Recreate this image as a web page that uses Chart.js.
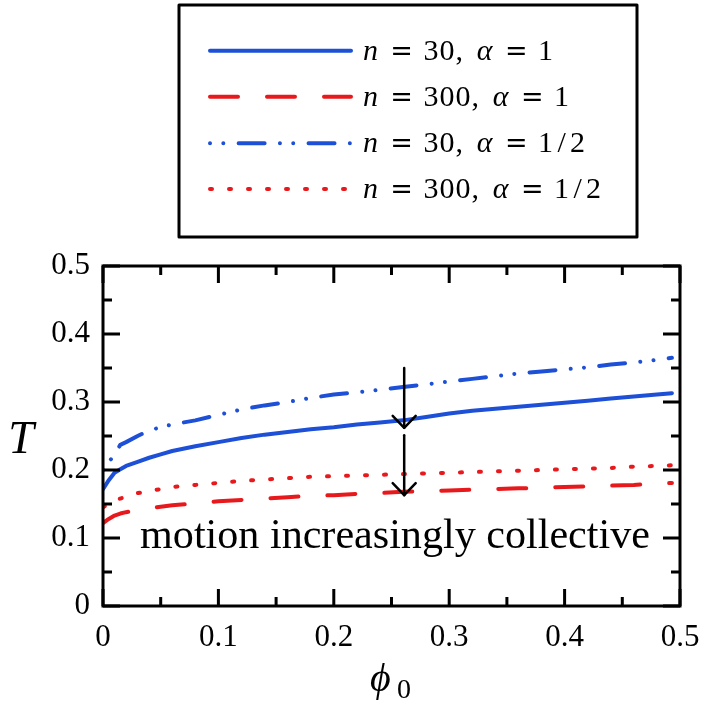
<!DOCTYPE html>
<html>
<head>
<meta charset="utf-8">
<script src="https://cdn.jsdelivr.net/npm/chart.js@4.4.1/dist/chart.umd.min.js"></script>
<style>
html,body{margin:0;padding:0;background:#fff;}
#wrap{position:relative;width:704px;height:705px;}
</style>
</head>
<body>
<div id="wrap"><canvas id="c"></canvas></div>
<script>
// ---- data ----
const phi = [0, 0.005, 0.01, 0.015, 0.02, 0.03, 0.04, 0.05, 0.06, 0.08, 0.1, 0.12, 0.14, 0.16, 0.18, 0.2,
             0.22, 0.24, 0.26, 0.28, 0.3, 0.32, 0.34, 0.36, 0.38, 0.4, 0.42, 0.44, 0.46, 0.48, 0.493];
const T_n30_a1 = [0.172, 0.185, 0.196, 0.201, 0.206, 0.212, 0.218, 0.223, 0.228, 0.235, 0.241, 0.247, 0.252, 0.256, 0.260, 0.263,
                  0.267, 0.270, 0.273, 0.278, 0.283, 0.287, 0.290, 0.293, 0.296, 0.299, 0.302, 0.305, 0.308, 0.311, 0.313];
const T_n300_a1 = [0.122, 0.128, 0.133, 0.136, 0.138, 0.141, 0.144, 0.146, 0.148, 0.151, 0.154, 0.156, 0.158, 0.160, 0.162, 0.163,
                   0.165, 0.166, 0.168, 0.169, 0.170, 0.171, 0.172, 0.173, 0.174, 0.175, 0.176, 0.177, 0.178, 0.180, 0.181];
const T_n30_a05 = [0.200, 0.212, 0.222, 0.237, 0.241, 0.250, 0.258, 0.263, 0.267, 0.273, 0.281, 0.289, 0.295, 0.300, 0.306, 0.311,
                   0.314, 0.318, 0.322, 0.326, 0.330, 0.334, 0.338, 0.342, 0.345, 0.348, 0.351, 0.355, 0.358, 0.362, 0.365];
const T_n300_a05 = [0.145, 0.150, 0.155, 0.158, 0.161, 0.166, 0.169, 0.172, 0.175, 0.178, 0.181, 0.184, 0.186, 0.188, 0.190, 0.191,
                    0.192, 0.193, 0.194, 0.195, 0.196, 0.197, 0.198, 0.199, 0.200, 0.201, 0.202, 0.203, 0.205, 0.206, 0.207];
const xTickValues = [0, 0.1, 0.2, 0.3, 0.4, 0.5];
const yTickValues = [0, 0.1, 0.2, 0.3, 0.4, 0.5];
const legendN = ['30', '300', '30', '300'];
const legendAlpha = ['1', '1', '1/2', '1/2'];
const annotationText = 'motion increasingly collective';
const arrowPhi = 0.261;
const arrow1 = [0.350, 0.262];
const arrow2 = [0.251, 0.163];

const BLUE = '#1d50d6';
const RED = '#e8191c';
const SERIF = '"Liberation Serif", "DejaVu Serif", serif';

function pts(ys){ return phi.map((x,i)=>({x:x, y:ys[i]})); }

const datasets = [
  {label:'n = 30, α = 1', data:pts(T_n30_a1), borderColor:BLUE, borderDash:[]},
  {label:'n = 300, α = 1', data:pts(T_n300_a1), borderColor:RED, borderDash:[28,29]},
  {label:'n = 30, α = 1/2', data:pts(T_n30_a05), borderColor:BLUE, borderDash:[0.01,13.3,0.01,15.3,26,15.3]},
  {label:'n = 300, α = 1/2', data:pts(T_n300_a05), borderColor:RED, borderDash:[2,17]}
].map(d=>Object.assign(d,{borderWidth:4, pointRadius:0, tension:0, fill:false, borderCapStyle:'round', borderJoinStyle:'round'}));

// TeX-like glyph advance widths (em)
const ADV = {'n':0.600,'=':0.778,'0':0.5,'1':0.5,'2':0.5,'3':0.5,',':0.278,'α':0.640,'/':0.5};

const decor = {
  id:'decor',
  afterDraw(chart){
    const ctx = chart.ctx;
    const a = chart.chartArea;
    const xs = chart.scales.x, ys = chart.scales.y;
    ctx.save();
    // frame
    ctx.strokeStyle = '#000'; ctx.lineWidth = 3; ctx.lineCap = 'butt';
    ctx.strokeRect(a.left, a.top, a.right-a.left, a.bottom-a.top);
    // inward ticks
    for (let i=0;i<=10;i++){
      const v = i*0.05;
      const len = (i%2===0)?17:9;
      const px = xs.getPixelForValue(v);
      const py = ys.getPixelForValue(v);
      ctx.beginPath();
      ctx.moveTo(px, a.bottom); ctx.lineTo(px, a.bottom-len);
      ctx.moveTo(px, a.top); ctx.lineTo(px, a.top+len);
      ctx.moveTo(a.left, py); ctx.lineTo(a.left+len, py);
      ctx.moveTo(a.right, py); ctx.lineTo(a.right-len, py);
      ctx.stroke();
    }
    // arrows
    function arrow(v0, v1){
      const x = xs.getPixelForValue(arrowPhi);
      const y0 = ys.getPixelForValue(v0), y1 = ys.getPixelForValue(v1);
      ctx.strokeStyle = '#000'; ctx.lineWidth = 2.5; ctx.lineCap='round'; ctx.lineJoin='round';
      ctx.beginPath(); ctx.moveTo(x,y0); ctx.lineTo(x,y1); ctx.stroke();
      ctx.beginPath(); ctx.moveTo(x-11.5,y1-12); ctx.lineTo(x,y1); ctx.lineTo(x+11.5,y1-12); ctx.stroke();
    }
    arrow(arrow1[0], arrow1[1]);
    arrow(arrow2[0], arrow2[1]);
    // annotation text
    ctx.fillStyle = '#000';
    let fs = 30;
    ctx.font = fs+'px '+SERIF;
    const w = ctx.measureText(annotationText).width;
    fs = fs*510/w;
    ctx.font = fs.toFixed(2)+'px '+SERIF;
    ctx.textAlign = 'center'; ctx.textBaseline = 'alphabetic';
    ctx.fillText(annotationText, 395, 547.5);
    // axis titles
    ctx.font = 'italic 46px '+SERIF;
    ctx.textAlign = 'center';
    ctx.fillText('T', 21, 453);
    ctx.textAlign = 'left';
    ctx.font = 'italic 40px '+SERIF;
    ctx.fillText('ϕ', 370, 691);
    ctx.font = '28px '+SERIF;
    ctx.fillText('0', 397, 698);
    // legend
    ctx.strokeStyle = '#000'; ctx.lineWidth = 3;
    ctx.strokeRect(179, 5, 637-179, 237-5);
    const rowY = [50.7, 96.7, 143.3, 189];
    const EM = 32;     // advance scale
    const GF = 30;     // glyph font size
    chart.data.datasets.forEach((d,i)=>{
      const y = rowY[i];
      ctx.save();
      ctx.strokeStyle = d.borderColor; ctx.lineWidth = 4; ctx.lineCap = 'round';
      ctx.setLineDash(d.borderDash);
      ctx.beginPath(); ctx.moveTo(210, y); ctx.lineTo(351, y); ctx.stroke();
      ctx.restore();
      const base = y + 9;
      const toks = [['n',true,0], ['=',false,0.278]];
      legendN[i].split('').forEach((c,k)=>toks.push([c,false,k===0?0.278:0]));
      toks.push([',',false,0]);
      toks.push(['α',true,0.333]);
      toks.push(['=',false,0.278]);
      legendAlpha[i].split('').forEach((c,k)=>toks.push([c,false,k===0?0.278:0]));
      let x = 361;
      ctx.textAlign = 'center'; ctx.fillStyle = '#000';
      toks.forEach(t=>{
        x += t[2]*EM;
        const adv = (ADV[t[0]]||0.5)*EM;
        if (t[0]==='=') ctx.font = '27px "DejaVu Serif", serif';
        else ctx.font = (t[1]?'italic ':'')+GF+'px '+SERIF;
        ctx.fillText(t[0], x+adv/2, base);
        x += adv;
      });
    });
    ctx.restore();
  }
};

new Chart(document.getElementById('c'), {
  type:'line',
  data:{datasets:datasets},
  options:{
    responsive:true, maintainAspectRatio:false, animation:false,
    layout:{padding:{top:266, right:24, left:0, bottom:0}},
    plugins:{legend:{display:false}, tooltip:{enabled:false}},
    scales:{
      x:{type:'linear', min:0, max:0.5,
         afterBuildTicks(s){ s.ticks = xTickValues.map(v=>({value:v})); },
         afterFit(s){ s.height = 99; s.paddingLeft = 0; s.paddingRight = 0; },
         grid:{display:false, drawTicks:false}, border:{display:false},
         ticks:{padding:13, color:'#000', font:{family:SERIF, size:31}, maxRotation:0,
                callback:(v)=> v===0?'0':Number(v).toFixed(1)}},
      y:{type:'linear', min:0, max:0.5,
         afterBuildTicks(s){ s.ticks = yTickValues.map(v=>({value:v})); },
         afterFit(s){ s.width = 103; s.paddingTop = 0; s.paddingBottom = 0; },
         grid:{display:false, drawTicks:false}, border:{display:false},
         ticks:{padding:13, color:'#000', font:{family:SERIF, size:31},
                callback:(v)=> v===0?'0':Number(v).toFixed(1)}}
    }
  },
  plugins:[decor]
});
</script>
</body>
</html>
